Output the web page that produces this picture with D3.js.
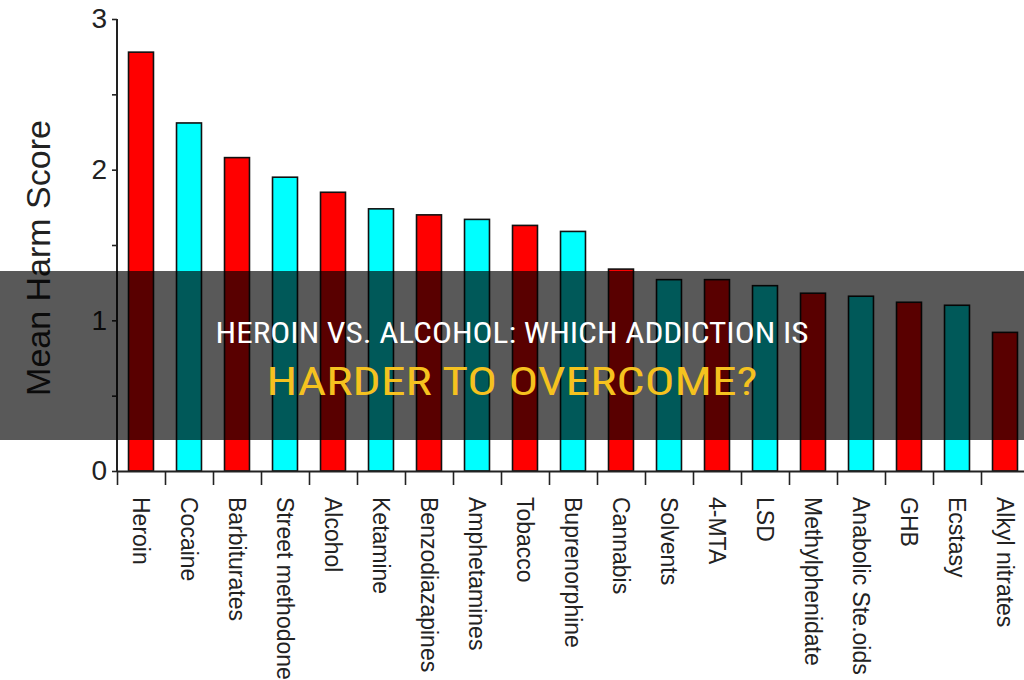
<!DOCTYPE html>
<html>
<head>
<meta charset="utf-8">
<script src="https://cdn.jsdelivr.net/npm/d3@7"></script>
<style>
  html, body { margin: 0; padding: 0; background: #fff; }
  svg { display: block; }
</style>
</head>
<body>
<svg id="chart" width="1024" height="680"></svg>
<script>
const categories = ["Heroin","Cocaine","Barbiturates","Street methodone","Alcohol","Ketamine","Benzodiazapines","Amphetamines","Tobacco","Buprenorphine","Cannabis","Solvents","4-MTA","LSD","Methylphenidate","Anabolic Ste.oids","GHB","Ecstasy","Alkyl nitrates"];
const harmScores = [2.78, 2.31, 2.08, 1.95, 1.85, 1.74, 1.70, 1.67, 1.63, 1.59, 1.34, 1.27, 1.27, 1.23, 1.18, 1.16, 1.12, 1.10, 0.92];
const yTickValues = [0, 0.5, 1, 1.5, 2, 2.5, 3];
const yLabel = "Mean Harm Score";
const titleLine1 = "HEROIN VS. ALCOHOL: WHICH ADDICTION IS";
const titleLine2 = "HARDER TO OVERCOME?";

const svg = d3.select("#chart");
const x0 = 117, step = 48, yBase = 471, yTop = 19;

const x = d3.scaleBand()
  .domain(categories)
  .range([x0, x0 + step * categories.length])
  .paddingInner(0.48)
  .paddingOuter(0.24);

const y = d3.scaleLinear().domain([0, 3]).range([yBase, yTop]);
const color = d3.scaleOrdinal().domain([0, 1]).range(["#ff0000", "#00ffff"]);

// bars
svg.append("g").selectAll("rect")
  .data(categories)
  .join("rect")
  .attr("x", d => x(d))
  .attr("width", x.bandwidth())
  .attr("y", (d, i) => y(harmScores[i]))
  .attr("height", (d, i) => yBase - y(harmScores[i]))
  .attr("fill", (d, i) => color(i % 2))
  .attr("stroke", "#111")
  .attr("stroke-width", 1.6);

// y axis
const yAxis = d3.axisLeft(y)
  .tickValues(yTickValues)
  .tickFormat(d => Number.isInteger(d) ? d3.format("d")(d) : "")
  .tickSize(5)
  .tickPadding(5);
const gy = svg.append("g").attr("transform", `translate(${x0},0)`).call(yAxis);
gy.select(".domain").attr("stroke", "#222").attr("stroke-width", 2).attr("d", `M-0,${yTop}V${yBase}`);
gy.selectAll(".tick line").attr("stroke", "#222").attr("stroke-width", 1.6);
gy.selectAll(".tick text")
  .attr("font-family", "'Liberation Sans', Arial, sans-serif")
  .attr("font-size", 28)
  .attr("fill", "#222");

// x axis (ticks at band boundaries)
const xb = d3.scaleLinear().domain([0, categories.length]).range([x0, x0 + step * categories.length]);
const xAxis = d3.axisBottom(xb)
  .tickValues(d3.range(0, categories.length))
  .tickFormat("")
  .tickSize(14)
  .tickSizeOuter(0);
const gx = svg.append("g").attr("transform", `translate(0,${yBase})`).call(xAxis);
gx.select(".domain").attr("stroke", "#222").attr("stroke-width", 2);
gx.selectAll(".tick line").attr("stroke", "#222").attr("stroke-width", 1.6);

// x category labels
svg.append("g").selectAll("text")
  .data(categories)
  .join("text")
  .attr("transform", d => `translate(${x(d) + x.bandwidth() / 2},497) rotate(90)`)
  .attr("dominant-baseline", "central")
  .attr("font-family", "'Liberation Sans', Arial, sans-serif")
  .attr("font-size", 23)
  .attr("fill", "#222")
  .text(d => d);

// y label
svg.append("text")
  .attr("transform", "translate(50,258) rotate(-90)")
  .attr("text-anchor", "middle")
  .attr("font-family", "'Liberation Sans', Arial, sans-serif")
  .attr("font-size", 34)
  .attr("fill", "#222")
  .text(yLabel);

// overlay band
svg.append("rect")
  .attr("x", 0).attr("y", 271)
  .attr("width", 1024).attr("height", 169)
  .attr("fill", "rgba(0,0,0,0.65)");

svg.append("text")
  .attr("x", 512).attr("y", 343)
  .attr("text-anchor", "middle")
  .attr("font-family", "'Liberation Sans Narrow', 'Roboto Condensed', 'Liberation Sans', sans-serif")
  .attr("font-size", 29)
  .attr("textLength", 593)
  .attr("lengthAdjust", "spacingAndGlyphs")
  .attr("fill", "#ffffff")
  .text(titleLine1);

svg.append("text")
  .attr("x", 512).attr("y", 395)
  .attr("text-anchor", "middle")
  .attr("font-family", "'Liberation Sans Narrow', 'Roboto Condensed', 'Liberation Sans', sans-serif")
  .attr("font-size", 38)
  .attr("textLength", 491)
  .attr("lengthAdjust", "spacingAndGlyphs")
  .attr("fill", "#f5c21f")
  .text(titleLine2);
</script>
</body>
</html>
